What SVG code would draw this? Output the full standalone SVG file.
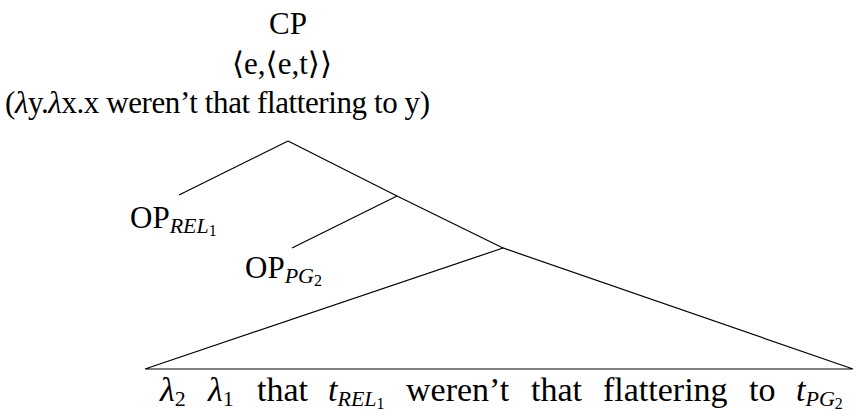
<svg xmlns="http://www.w3.org/2000/svg" width="856" height="417" viewBox="0 0 856 417">
<style>
text{fill:#000;font-size:31px}
.it{font-style:italic}
.sub{font-size:22px}
.sub2{font-size:16px}
.big{font-size:34px}
.edge{stroke:#000;stroke-width:1.2;fill:none}
</style>
<rect width="856" height="417" fill="#fff"/>
<g font-family="'Liberation Serif', 'DejaVu Serif', serif">
<g id="cp">
<text x="288" y="34" text-anchor="middle" font-size="32">CP</text>
<text x="282" y="74" text-anchor="middle">⟨e,⟨e,t⟩⟩</text>
<text x="5" y="113" textLength="425">(<tspan class="it">λ</tspan>y.<tspan class="it">λ</tspan>x.x weren’t that flattering to y)</text>
</g>
<g id="op-rel">
<text x="130" y="228">OP<tspan class="it sub" dy="5">REL</tspan><tspan class="sub2" dy="3">1</tspan></text>
</g>
<g id="op-pg">
<text x="245" y="278">OP<tspan class="it sub" dy="5">PG</tspan><tspan class="sub2" dy="3">2</tspan></text>
</g>
<g id="tp">
<text y="401" class="big"><tspan x="160" class="it">λ</tspan><tspan class="sub" dy="5">2</tspan><tspan x="208" dy="-5" class="it">λ</tspan><tspan class="sub" dy="5">1</tspan><tspan x="257" dy="-5">that</tspan><tspan x="328" class="it">t</tspan><tspan class="it sub" dy="5">REL</tspan><tspan class="sub2" dy="3">1</tspan><tspan x="406" dy="-8">weren’t</tspan><tspan x="531">that</tspan><tspan x="603">flattering</tspan><tspan x="749">to</tspan><tspan x="796" class="it">t</tspan><tspan class="it sub" dy="5">PG</tspan><tspan class="sub2" dy="3">2</tspan></text>
</g>
</g>
<g id="connectors">
<line class="edge" x1="288" y1="141" x2="179" y2="195"/>
<line class="edge" x1="288" y1="141" x2="397" y2="196"/>
<line class="edge" x1="397" y1="196" x2="292" y2="248"/>
<line class="edge" x1="397" y1="196" x2="503" y2="248"/>
<polygon class="edge" points="503,248 145,369 853,369"/>
</g>
</svg>
